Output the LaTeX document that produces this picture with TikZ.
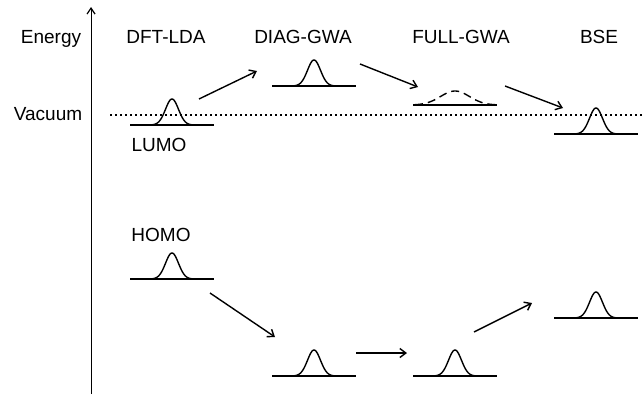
\documentclass[tikz,border=0pt]{standalone}
\usepackage{fontspec}
\setmainfont{Liberation Sans}
\usetikzlibrary{arrows.meta}
\tikzset{
  lbl/.style={anchor=base, inner sep=0pt, font=\fontsize{19}{23}\selectfont},
  levelline/.style={line width=1.4pt},
  shiftarrow/.style={line width=1.4pt, -{Straight Barb[length=6pt,width=9pt,line width=1.4pt]}},
  level/.pic={
    \draw[levelline] (-42,0) -- (42,0);
    \draw[levelline] plot[variable=\t, domain=-21:21, samples=61, smooth]
      (\t, {-26*exp(-(\t*\t)/84)});
  },
  broadlevel/.pic={
    \draw[levelline] (-42,0) -- (42,0);
    \draw[levelline, dash pattern=on 8pt off 5pt] plot[variable=\t, domain=-40:40, samples=81, smooth]
      (\t, {-14*exp(-(\t*\t)/420)});
  }
}
\begin{document}
\begin{tikzpicture}[x=1pt, y=-1pt]
  \useasboundingbox (0,0) rectangle (644,394);

  % energy axis
  \draw[line width=1pt, -{Straight Barb[length=6pt,width=8pt,line width=1.2pt]}] (91,394) -- (91,7);

  % headings
  \node[lbl] (energy) at (51,43) {Energy};
  \node[lbl] (h1) at (166,43) {DFT-LDA};
  \node[lbl] (h2) at (303,43) {DIAG-GWA};
  \node[lbl] (h3) at (461,43) {FULL-GWA};
  \node[lbl] (h4) at (599,43) {BSE};
  \node[lbl] (vac) at (48,120) {Vacuum};
  \node[lbl] (lumo) at (159,151) {LUMO};
  \node[lbl] (homo) at (161,241) {HOMO};

  % vacuum level
  \coordinate (vacL) at (110,115);
  \coordinate (vacR) at (642,115);
  \draw[line width=1.3pt, dash pattern=on 2pt off 3pt] (vacL) -- (vacR);

  % LUMO levels
  \coordinate (l1) at (172,125);
  \coordinate (l2) at (314,86);
  \coordinate (l3) at (455,105);
  \coordinate (l4) at (596,134);
  \pic at (l1) {level};
  \pic at (l2) {level};
  \pic at (l3) {broadlevel};
  \pic at (l4) {level};

  % HOMO levels
  \coordinate (o1) at (172,279);
  \coordinate (o2) at (314,376);
  \coordinate (o3) at (455,376);
  \coordinate (o4) at (596,318);
  \pic at (o1) {level};
  \pic at (o2) {level};
  \pic at (o3) {level};
  \pic at (o4) {level};

  % shifts of the LUMO
  \coordinate (a1s) at (199,99);  \coordinate (a1e) at (257,71);
  \coordinate (a2s) at (360,64);  \coordinate (a2e) at (418,87);
  \coordinate (a3s) at (505,86);  \coordinate (a3e) at (563,108);
  \draw[shiftarrow] (a1s) -- (a1e);
  \draw[shiftarrow] (a2s) -- (a2e);
  \draw[shiftarrow] (a3s) -- (a3e);

  % shifts of the HOMO
  \coordinate (b1s) at (210,293); \coordinate (b1e) at (275,337);
  \coordinate (b2s) at (356,353); \coordinate (b2e) at (407,353);
  \coordinate (b3s) at (474,332); \coordinate (b3e) at (532,303);
  \draw[shiftarrow] (b1s) -- (b1e);
  \draw[shiftarrow] (b2s) -- (b2e);
  \draw[shiftarrow] (b3s) -- (b3e);
\end{tikzpicture}
\end{document}
